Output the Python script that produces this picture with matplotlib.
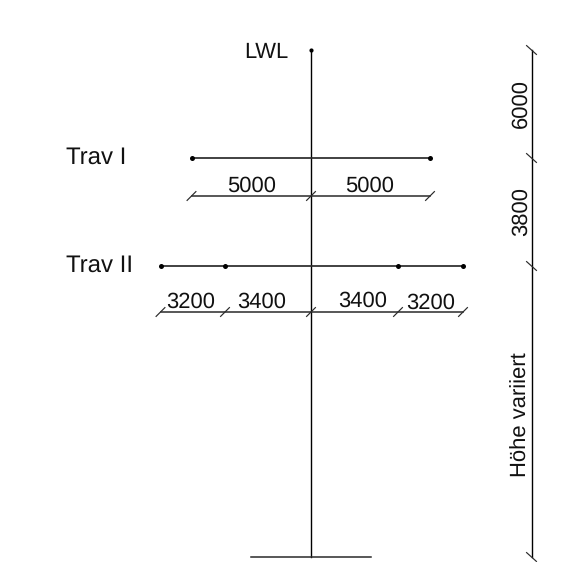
import matplotlib
matplotlib.use("Agg")
import matplotlib.pyplot as plt

plt.rcParams['font.family'] = ['Liberation Sans', 'DejaVu Sans']
plt.rcParams['text.hinting'] = 'no_hinting'
plt.rcParams['text.hinting_factor'] = 1

# Schematic coordinates of the drawing (not to scale in the source)
mast_x = 311
mast_top = 50
mast_bottom = 557
base_x = [251, 371]

trav1_y = 158
trav1_x = [191.5, 430]
trav1_dim_y = 196
trav1_dim_x = [191.5, 311, 430]
trav1_labels = ["5000", "5000"]
trav1_label_x = [251.5, 370]
trav1_label_y = [191.7, 191.7]

trav2_y = 266
trav2_x = [160.5, 225, 398, 463]
trav2_dim_y = 312
trav2_dim_x = [160.5, 225, 311, 398, 463]
trav2_labels = ["3200", "3400", "3400", "3200"]
trav2_label_x = [190.7, 262, 362.3, 431]
trav2_label_y = [307.7, 307.7, 306.7, 309]

height_x = 531.5
height_y = [50, 158, 266, 557]
height_labels = ["6000", "3800", "Höhe variiert"]
height_label_y = [104, 211.7, 414.7]
height_label_x = 526.8

names = ["LWL", "Trav I", "Trav II"]
name_x = [244.5, 66, 66]
name_y = [58.3, 164, 271.7]
name_size = [15.8, 17.4, 17.4]

INK = "#2a2a2a"
fig = plt.figure(figsize=(5.63, 5.62), dpi=100)
ax = fig.add_axes([0, 0, 1, 1])
ax.set_xlim(0, 563)
ax.set_ylim(562, 0)
ax.axis("off")

LW = 1.0
ax.plot([mast_x, mast_x], [mast_top, mast_bottom], color="black", lw=LW)
ax.plot(base_x, [mast_bottom, mast_bottom], color=INK, lw=LW * 1.1)
ax.plot([mast_x], [mast_top], "o", color="black", ms=3, mew=0)

for y, xs in [(trav1_y, trav1_x), (trav2_y, trav2_x)]:
    ax.plot([min(xs), max(xs)], [y, y], color=INK, lw=LW * 1.25)
    ax.plot(xs, [y] * len(xs), "o", color="black", ms=3.6, mew=0)

T = 4.4
for y, xs in [(trav1_dim_y, trav1_dim_x), (trav2_dim_y, trav2_dim_x)]:
    ax.plot([min(xs), max(xs)], [y, y], color=INK, lw=LW * 1.1)
    for x in xs:
        ax.plot([x - T, x + T], [y + T, y - T], color=INK, lw=0.85)

ax.plot([height_x, height_x], [min(height_y), max(height_y)], color="black", lw=LW)
for y in height_y:
    ax.plot([height_x - T - 0.5, height_x + T + 0.5], [y - T, y + T], color=INK, lw=0.85)

FS = 15.5
TXT = "#111111"
for labels, xs, ys in [(trav1_labels, trav1_label_x, trav1_label_y),
                       (trav2_labels, trav2_label_x, trav2_label_y)]:
    for s, x, y in zip(labels, xs, ys):
        ax.text(x, y, s, ha="center", va="baseline", fontsize=FS, color=TXT)

for s, y in zip(height_labels, height_label_y):
    ax.text(height_label_x, y, s, rotation=90, rotation_mode="anchor",
            ha="center", va="baseline", fontsize=FS, color=TXT)

for s, x, y, fs in zip(names, name_x, name_y, name_size):
    ax.text(x, y, s, ha="left", va="baseline", fontsize=fs, color=TXT)

fig.savefig("out.png", dpi=100, facecolor="white")
